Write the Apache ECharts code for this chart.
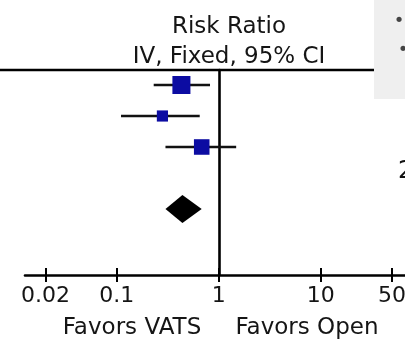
<!DOCTYPE html>
<html><head><meta charset="utf-8">
<script src="https://cdn.jsdelivr.net/npm/echarts@6/dist/echarts.min.js"></script>
<style>html,body{margin:0;padding:0;background:#fff}#c{width:405px;height:339px}</style>
</head><body><div id="c"></div>
<script>
// Study-level data (risk ratios with 95% CI)
const studyRows = [0, 1, 2];
const studyRR = [0.43, 0.28, 0.68];
const studyLow = [0.23, 0.11, 0.30];
const studyHigh = [0.82, 0.65, 1.48];
const studyWeight = [47, 18, 35];
// Pooled estimate
const pooledRow = [4];
const pooledRR = [0.44];
const pooledLow = [0.30];
const pooledHigh = [0.68];
// Axis ticks
const tickValues = [0.02, 0.1, 1, 10, 50];
const tickLabels = ['0.02', '0.1', '1', '10', '50'];

const L = Math.log10;
const tickLog = tickValues.map(L);
const FONT = 'DejaVu Sans';
const TXT = '#151515';
const LW = 2.6;

const studyData = studyRows.map((r, i) => [r, L(studyRR[i]), L(studyLow[i]), L(studyHigh[i]), studyWeight[i]]);
const pooledData = pooledRow.map((r, i) => [r, L(pooledRR[i]), L(pooledLow[i]), L(pooledHigh[i])]);

function renderStudy(params, api) {
  const y = api.value(0);
  const p = api.coord([api.value(1), y]);
  const lo = api.coord([api.value(2), y]);
  const hi = api.coord([api.value(3), y]);
  const s = Math.sqrt(api.value(4)) * 2.63;
  return {type: 'group', children: [
    {type: 'line', shape: {x1: lo[0], y1: lo[1], x2: hi[0], y2: hi[1]}, style: {stroke: '#111', lineWidth: LW}},
    {type: 'rect', shape: {x: p[0] - s / 2, y: p[1] - s / 2, width: s, height: s}, style: {fill: '#0c0ca2'}}
  ]};
}
function renderPooled(params, api) {
  const y = api.value(0);
  const p = api.coord([api.value(1), y]);
  const lo = api.coord([api.value(2), y]);
  const hi = api.coord([api.value(3), y]);
  const h = 14;
  return {type: 'polygon', shape: {points: [[lo[0], lo[1]], [p[0], p[1] - h], [hi[0], hi[1]], [p[0], p[1] + h]]}, style: {fill: '#000'}};
}

const labelFmt = v => {
  const i = tickLog.findIndex(t => Math.abs(t - v) < 1e-6);
  return i >= 0 ? tickLabels[i] : '';
};

const chart = echarts.init(document.getElementById('c'), null, {renderer: 'canvas'});
chart.setOption({
  animation: false,
  backgroundColor: '#fff',
  title: {
    text: 'Risk Ratio\nIV, Fixed, 95% CI',
    left: 224, top: 7, textAlign: 'center',
    textStyle: {fontFamily: FONT, fontSize: 23, fontWeight: 'normal', color: TXT, lineHeight: 30}
  },
  grid: {left: 25, top: 70, width: 397.8, height: 205, containLabel: false, outerBoundsMode: 'none'},
  xAxis: [{
    type: 'value', min: -1.9, max: 2.0, position: 'bottom',
    axisLine: {show: true, onZero: false, lineStyle: {color: '#000', width: LW}},
    axisTick: {show: true, customValues: tickLog, length: 7, inside: false, lineStyle: {color: '#000', width: 2}},
    axisLabel: {show: true, customValues: tickLog, formatter: labelFmt, fontFamily: FONT, fontSize: 22, color: TXT, margin: 10},
    splitLine: {show: false}
  }, {
    type: 'value', min: -1.9, max: 2.0, position: 'bottom', offset: 0,
    axisLine: {show: false, onZero: false},
    axisTick: {show: true, customValues: tickLog, length: 7, inside: true, lineStyle: {color: '#000', width: 2}},
    axisLabel: {show: false, customValues: tickLog},
    splitLine: {show: false}
  }],
  yAxis: {
    type: 'value', min: -0.484, max: 6.13, inverse: true,
    axisLine: {show: true, onZero: true, lineStyle: {color: '#000', width: LW}},
    axisTick: {show: false}, axisLabel: {show: false}, splitLine: {show: false}
  },
  graphic: [
    {type: 'line', shape: {x1: 0, y1: 70, x2: 375, y2: 70}, style: {stroke: '#000', lineWidth: LW}},
    {type: 'rect', shape: {x: 374, y: 0, width: 31, height: 99}, style: {fill: '#efefef'}},
    {type: 'text', x: 399, y: 21, style: {text: '•', fontFamily: FONT, fontSize: 18, fill: '#444', align: 'center', verticalAlign: 'middle'}},
    {type: 'text', x: 403, y: 50, style: {text: '•', fontFamily: FONT, fontSize: 18, fill: '#444', align: 'center', verticalAlign: 'middle'}},
    {type: 'text', x: 398, y: 172, style: {text: '2', fontFamily: FONT, fontSize: 24, fill: '#111', align: 'left', verticalAlign: 'middle'}},
    {type: 'text', x: 132, y: 328, style: {text: 'Favors VATS', fontFamily: FONT, fontSize: 23, fill: TXT, align: 'center', verticalAlign: 'middle'}},
    {type: 'text', x: 307, y: 328, style: {text: 'Favors Open', fontFamily: FONT, fontSize: 23, fill: TXT, align: 'center', verticalAlign: 'middle'}}
  ],
  series: [{
    type: 'custom', xAxisIndex: 0, yAxisIndex: 0, renderItem: renderStudy,
    encode: {x: [1, 2, 3], y: 0}, data: studyData
  }, {
    type: 'custom', xAxisIndex: 0, yAxisIndex: 0, renderItem: renderPooled,
    encode: {x: [1, 2, 3], y: 0}, data: pooledData
  }]
});
</script></body></html>
